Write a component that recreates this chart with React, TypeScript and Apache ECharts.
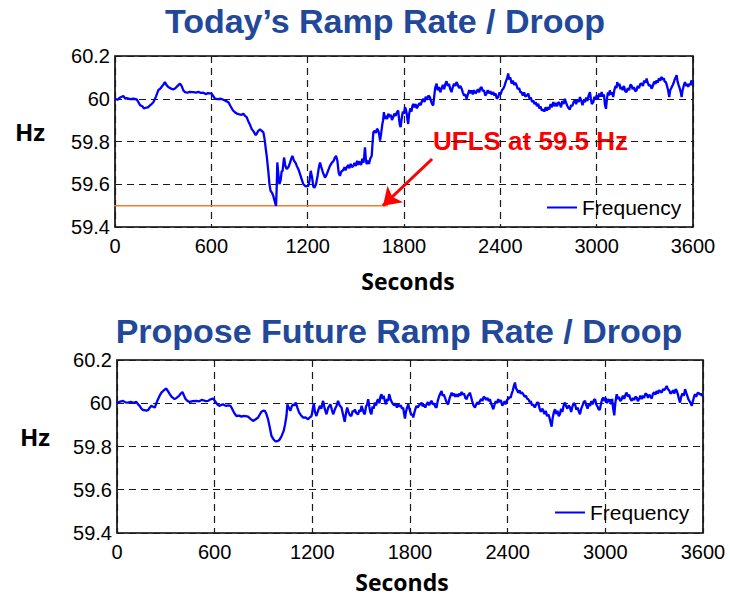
import React, { useEffect, useRef } from "react";
import * as echarts from "echarts";

const xTicks = [0, 600, 1200, 1800, 2400, 3000, 3600];
const yRange = [59.4, 60.2];
const titles = ["Today\u2019s Ramp Rate / Droop", "Propose Future Ramp Rate / Droop"];
const uflsLevel = 59.5;
const uflsLine: [number, number][] = [[-40, 59.5], [1700, 59.5]];
const arrowFrom: [number, number] = [1975, 59.718];
const arrowTo: [number, number] = [1669, 59.5];

const todayFreq: [number, number][] = [[0,60.0],[15,59.995],[30,60.005],[52,60.013],[65,60.0],[73,60.003],[95,59.998],[115,60.0],[135,59.997],[145,59.985],[156,59.97],[170,59.965],[180,59.955],[193,59.958],[205,59.96],[218,59.969],[228,59.975],[239,59.984],[255,60.01],[270,60.04],[285,60.05],[300,60.065],[311,60.078],[320,60.065],[332,60.055],[350,60.047],[362,60.044],[374,60.048],[390,60.06],[405,60.071],[415,60.06],[425,60.04],[436,60.031],[450,60.028],[465,60.032],[488,60.031],[505,60.029],[520,60.032],[535,60.027],[550,60.028],[565,60.022],[580,60.026],[602,60.024],[612,60.012],[623,60.0],[640,59.998],[660,60.0],[675,59.995],[690,59.99],[706,59.984],[720,59.965],[735,59.945],[747,59.937],[760,59.93],[775,59.927],[789,59.925],[800,59.93],[810,59.92],[820,59.914],[830,59.895],[840,59.88],[851,59.859],[865,59.845],[875,59.83],[882,59.835],[892,59.85],[903,59.856],[914,59.85],[924,59.843],[932,59.81],[940,59.76],[945,59.733],[955,59.66],[962,59.6],[969,59.569],[978,59.56],[986,59.545],[995,59.52],[1003,59.498],[1007,59.58],[1011,59.702],[1017,59.65],[1024,59.6],[1032,59.62],[1038,59.66],[1044,59.663],[1049,59.7],[1053,59.725],[1060,59.69],[1069,59.671],[1080,59.68],[1090,59.7],[1098,59.72],[1105,59.733],[1115,59.71],[1125,59.7],[1132,59.686],[1145,59.665],[1160,59.63],[1173,59.6],[1188,59.59],[1204,59.592],[1212,59.62],[1219,59.663],[1228,59.63],[1235,59.59],[1242,59.584],[1252,59.6],[1262,59.64],[1270,59.68],[1277,59.702],[1285,59.68],[1295,59.655],[1308,59.631],[1318,59.645],[1328,59.665],[1339,59.686],[1350,59.7],[1362,59.71],[1370,59.725],[1377,59.733],[1385,59.71],[1393,59.655],[1401,59.639],[1410,59.66],[1420,59.665],[1430,59.68],[1436,59.665],[1443,59.678],[1452,59.69],[1460,59.675],[1468,59.695],[1476,59.68],[1484,59.686],[1492,59.7],[1500,59.685],[1508,59.71],[1515,59.69],[1520,59.705],[1526,59.702],[1533,59.69],[1540,59.72],[1547,59.7],[1552,59.73],[1557,59.773],[1562,59.72],[1567,59.694],[1575,59.71],[1582,59.695],[1590,59.72],[1599,59.733],[1603,59.78],[1609,59.843],[1618,59.85],[1625,59.84],[1632,59.86],[1640,59.851],[1646,59.83],[1651,59.804],[1658,59.84],[1665,59.88],[1670,59.9],[1675,59.937],[1681,59.906],[1688,59.92],[1695,59.905],[1702,59.93],[1710,59.915],[1718,59.925],[1725,59.9],[1733,59.914],[1740,59.93],[1748,59.92],[1755,59.935],[1764,59.945],[1770,59.9],[1775,59.875],[1779,59.867],[1786,59.91],[1793,59.94],[1800,59.93],[1806,59.961],[1812,59.95],[1818,59.925],[1822,59.9],[1826,59.882],[1832,59.93],[1840,59.955],[1847,59.94],[1852,59.965],[1858,59.976],[1865,59.96],[1872,59.975],[1880,59.955],[1889,59.969],[1897,59.98],[1904,59.97],[1912,59.99],[1920,60.0],[1928,59.985],[1935,60.01],[1943,59.995],[1952,60.015],[1961,60.008],[1968,59.99],[1975,59.975],[1982,59.969],[1988,60.01],[1994,60.05],[2003,60.071],[2010,60.04],[2018,60.055],[2026,60.03],[2034,60.047],[2042,60.065],[2050,60.045],[2058,60.07],[2065,60.082],[2072,60.06],[2080,60.07],[2088,60.045],[2096,60.031],[2104,60.055],[2112,60.07],[2120,60.06],[2127,60.078],[2135,60.065],[2143,60.05],[2151,60.06],[2159,60.047],[2166,60.03],[2174,60.015],[2182,60.02],[2190,60.0],[2198,60.02],[2206,60.04],[2214,60.025],[2221,60.039],[2229,60.02],[2237,60.04],[2245,60.025],[2252,60.031],[2260,60.045],[2268,60.03],[2276,60.05],[2283,60.055],[2291,60.035],[2298,60.04],[2306,60.015],[2314,60.024],[2322,60.04],[2330,60.025],[2338,60.035],[2346,60.02],[2356,60.031],[2363,60.015],[2370,60.025],[2378,60.0],[2387,60.008],[2395,60.03],[2402,60.02],[2410,60.04],[2418,60.047],[2426,60.06],[2434,60.08],[2442,60.095],[2449,60.118],[2455,60.09],[2462,60.1],[2470,60.071],[2478,60.085],[2486,60.065],[2494,60.075],[2501,60.063],[2509,60.045],[2517,60.05],[2525,60.03],[2532,60.031],[2540,60.015],[2548,60.03],[2556,60.01],[2565,60.015],[2574,60.024],[2582,60.0],[2590,60.005],[2598,59.985],[2605,59.992],[2613,59.975],[2620,59.985],[2628,59.965],[2636,59.976],[2643,59.955],[2650,59.965],[2658,59.945],[2667,59.95],[2674,59.94],[2682,59.96],[2690,59.945],[2698,59.961],[2705,59.95],[2713,59.975],[2721,59.96],[2730,59.984],[2738,59.965],[2746,59.98],[2754,59.965],[2762,59.985],[2771,59.976],[2778,59.96],[2786,59.99],[2794,59.975],[2802,60.0],[2810,59.98],[2818,59.965],[2826,59.955],[2833,59.95],[2841,59.97],[2848,59.965],[2856,59.985],[2864,59.992],[2872,59.975],[2880,59.995],[2888,59.985],[2896,60.008],[2904,59.99],[2912,59.97],[2920,59.995],[2927,59.984],[2935,60.005],[2942,59.99],[2950,60.015],[2958,60.031],[2964,60.0],[2970,59.975],[2979,59.984],[2986,60.01],[2993,59.995],[3000,60.016],[3008,60.0],[3016,60.025],[3024,60.01],[3031,60.031],[3038,60.01],[3045,60.02],[3052,59.97],[3058,59.953],[3064,60.0],[3070,60.03],[3076,60.015],[3082,60.039],[3090,60.02],[3096,60.03],[3103,60.008],[3110,60.04],[3118,60.06],[3124,60.05],[3128,60.078],[3135,60.06],[3142,60.07],[3148,60.045],[3155,60.055],[3162,60.04],[3170,60.06],[3178,60.035],[3186,60.031],[3194,60.05],[3202,60.04],[3210,60.065],[3217,60.063],[3224,60.045],[3232,60.055],[3240,60.035],[3248,60.039],[3256,60.06],[3264,60.05],[3272,60.07],[3280,60.071],[3288,60.06],[3296,60.085],[3304,60.075],[3311,60.094],[3318,60.075],[3326,60.06],[3334,60.065],[3342,60.047],[3350,60.06],[3358,60.08],[3366,60.07],[3373,60.086],[3380,60.075],[3388,60.095],[3396,60.085],[3404,60.102],[3410,60.09],[3418,60.095],[3424,60.08],[3431,60.078],[3438,60.06],[3445,60.04],[3452,60.008],[3458,60.04],[3465,60.05],[3473,60.063],[3480,60.075],[3486,60.09],[3492,60.1],[3498,60.11],[3504,60.08],[3510,60.065],[3518,60.047],[3524,60.03],[3529,60.008],[3535,60.04],[3542,60.06],[3550,60.078],[3557,60.06],[3564,60.07],[3570,60.055],[3577,60.07],[3584,60.065],[3591,60.086],[3597,60.063]];

const futureFreq: [number, number][] = [[0,60.0],[6,60.003],[20,60.008],[37,60.011],[52,60.004],[68,60.003],[85,60.006],[100,60.002],[119,60.006],[130,59.995],[139,59.988],[150,59.975],[160,59.968],[170,59.968],[180,59.966],[191,59.968],[200,59.978],[211,59.988],[222,59.984],[232,59.98],[242,60.0],[252,60.019],[262,60.035],[273,60.049],[288,60.06],[303,60.068],[314,60.055],[324,60.042],[338,60.028],[354,60.019],[366,60.025],[381,60.034],[392,60.045],[402,60.052],[412,60.035],[422,60.019],[435,60.01],[447,60.006],[465,60.01],[488,60.011],[505,60.009],[520,60.015],[529,60.014],[545,60.01],[559,60.011],[575,60.018],[590,60.022],[600,60.012],[611,60.0],[620,59.992],[631,59.988],[642,59.993],[652,59.995],[662,59.99],[672,59.988],[685,59.99],[697,59.988],[705,59.978],[713,59.965],[724,59.95],[734,59.941],[750,59.943],[765,59.938],[775,59.941],[790,59.94],[805,59.938],[820,59.928],[836,59.918],[850,59.925],[867,59.934],[877,59.948],[887,59.96],[898,59.966],[908,59.965],[918,59.95],[928,59.926],[938,59.89],[949,59.849],[960,59.835],[970,59.826],[979,59.823],[990,59.826],[1000,59.833],[1012,59.85],[1024,59.872],[1032,59.9],[1041,59.941],[1047,59.995],[1055,59.98],[1065,59.965],[1073,59.985],[1082,59.995],[1090,59.99],[1098,60.003],[1108,59.98],[1119,59.957],[1130,59.945],[1143,59.934],[1158,59.935],[1174,59.926],[1185,59.935],[1195,59.941],[1202,59.97],[1209,60.0],[1216,59.96],[1225,59.941],[1235,59.965],[1246,59.988],[1255,59.975],[1266,60.011],[1276,59.975],[1287,59.949],[1298,59.98],[1311,59.995],[1320,59.97],[1328,59.949],[1340,59.975],[1350,59.99],[1358,60.011],[1368,59.99],[1379,59.98],[1388,59.95],[1399,59.914],[1406,59.95],[1414,59.98],[1422,59.96],[1430,59.945],[1440,59.941],[1448,59.965],[1455,59.96],[1461,59.972],[1470,59.955],[1481,59.949],[1490,59.97],[1496,59.96],[1502,59.988],[1510,59.97],[1516,59.955],[1522,59.949],[1530,59.985],[1537,59.995],[1543,60.019],[1550,59.985],[1556,59.96],[1563,59.949],[1570,59.985],[1577,59.975],[1584,60.003],[1592,59.99],[1598,60.01],[1604,60.019],[1612,60.0],[1618,60.03],[1625,60.042],[1632,60.02],[1638,60.035],[1645,60.011],[1652,59.995],[1660,60.02],[1666,60.011],[1672,60.042],[1680,60.02],[1688,60.005],[1697,59.995],[1705,59.99],[1712,60.0],[1720,59.98],[1728,59.995],[1736,59.985],[1744,59.99],[1751,59.975],[1758,59.98],[1764,59.95],[1769,59.929],[1775,59.96],[1782,59.98],[1789,59.995],[1796,59.975],[1802,59.96],[1808,59.945],[1814,59.95],[1820,59.934],[1828,59.96],[1834,59.975],[1840,59.988],[1848,59.98],[1855,59.99],[1863,59.995],[1871,60.003],[1878,59.985],[1886,59.995],[1894,59.98],[1902,59.995],[1910,60.005],[1918,59.99],[1926,60.005],[1933,60.011],[1940,59.995],[1947,60.0],[1955,59.985],[1963,59.98],[1970,60.01],[1978,60.03],[1986,60.045],[1994,60.057],[2000,60.035],[2008,60.04],[2015,60.026],[2022,60.01],[2028,60.0],[2035,59.995],[2042,60.02],[2049,60.035],[2056,60.049],[2064,60.035],[2071,60.045],[2078,60.03],[2086,60.042],[2094,60.03],[2101,60.045],[2109,60.035],[2117,60.052],[2124,60.04],[2132,60.045],[2140,60.025],[2148,60.019],[2155,60.035],[2162,60.04],[2168,60.049],[2175,60.03],[2182,60.01],[2190,59.99],[2199,59.98],[2207,59.995],[2214,60.005],[2222,59.995],[2230,60.011],[2238,60.02],[2245,60.01],[2252,60.03],[2260,60.026],[2268,60.015],[2276,60.025],[2284,60.01],[2291,60.019],[2298,60.0],[2305,59.985],[2312,59.972],[2320,59.995],[2327,60.01],[2335,60.0],[2342,60.019],[2350,60.005],[2358,60.015],[2366,59.99],[2373,59.995],[2381,60.01],[2389,59.995],[2396,60.015],[2404,60.019],[2412,60.03],[2418,60.025],[2424,60.042],[2432,60.06],[2438,60.08],[2445,60.096],[2451,60.07],[2458,60.06],[2465,60.049],[2473,60.06],[2480,60.045],[2488,60.05],[2496,60.042],[2504,60.03],[2512,60.035],[2520,60.02],[2527,60.019],[2535,60.005],[2542,60.01],[2550,59.99],[2558,59.995],[2566,59.98],[2573,59.99],[2580,60.003],[2588,60.003],[2596,59.975],[2604,59.96],[2612,59.975],[2619,59.965],[2626,59.95],[2634,59.965],[2642,59.94],[2650,59.949],[2658,59.93],[2664,59.91],[2670,59.892],[2676,59.93],[2684,59.96],[2691,59.972],[2698,59.95],[2706,59.965],[2714,59.94],[2721,59.949],[2728,59.975],[2736,59.96],[2744,59.99],[2752,60.003],[2760,59.985],[2767,59.975],[2775,59.99],[2783,59.98],[2790,59.96],[2798,59.985],[2806,60.0],[2814,59.995],[2822,59.97],[2830,59.98],[2838,59.96],[2844,59.949],[2852,59.975],[2860,59.99],[2867,60.005],[2875,60.011],[2883,59.99],[2891,59.975],[2898,59.995],[2906,59.988],[2914,60.01],[2922,59.995],[2930,60.015],[2937,60.019],[2944,59.995],[2952,59.985],[2960,59.97],[2967,59.972],[2974,60.0],[2981,60.02],[2988,60.026],[2995,60.01],[3002,60.025],[3010,60.0],[3017,60.02],[3024,60.005],[3029,60.019],[3036,59.995],[3042,60.02],[3048,59.975],[3055,59.944],[3060,59.99],[3065,60.02],[3070,60.042],[3077,60.02],[3084,60.03],[3092,60.01],[3101,60.019],[3108,60.035],[3116,60.02],[3124,60.04],[3131,60.049],[3139,60.03],[3146,60.04],[3154,60.02],[3162,60.011],[3170,60.025],[3177,60.015],[3185,60.03],[3193,60.026],[3200,60.01],[3208,60.02],[3215,60.035],[3223,60.019],[3231,60.035],[3238,60.025],[3246,60.045],[3254,60.042],[3262,60.025],[3270,60.04],[3278,60.03],[3285,60.022],[3293,60.045],[3300,60.05],[3308,60.04],[3316,60.057],[3323,60.045],[3331,60.06],[3338,60.055],[3346,60.049],[3354,60.065],[3362,60.06],[3370,60.07],[3377,60.08],[3384,60.065],[3392,60.06],[3400,60.045],[3408,60.049],[3416,60.06],[3424,60.045],[3432,60.065],[3439,60.057],[3446,60.04],[3452,60.02],[3459,60.003],[3466,60.03],[3474,60.045],[3482,60.035],[3490,60.065],[3496,60.05],[3503,60.035],[3510,60.019],[3517,60.01],[3524,60.0],[3531,59.988],[3538,60.01],[3545,60.03],[3551,60.042],[3558,60.03],[3565,60.045],[3572,60.049],[3580,60.04],[3586,60.045],[3592,60.034],[3598,60.04]];

const FONT = "'Liberation Sans', Arial, sans-serif";
const LABEL_FONT = "'Open Sans', 'Liberation Sans', sans-serif";

function yFmt(v: number) {
  const r = Math.round(v * 10) / 10;
  return r === 60 ? "60" : r.toFixed(1);
}
function xFmt(v: number) {
  return String(Math.round(v));
}

export default function App() {
  const ref = useRef<HTMLDivElement>(null);
  useEffect(() => {
    if (!ref.current) return;
    const chart = echarts.init(ref.current, undefined, { renderer: "svg" });
    const grids = [
      { left: 115, top: 56, width: 578, height: 171 },
      { left: 117, top: 360, width: 586, height: 173 },
    ];
    const split = { show: true, lineStyle: { color: "#1a1a1a", type: [7, 5], width: 1.2 } };
    const option: any = {
      animation: false,
      backgroundColor: "#ffffff",
      textStyle: { fontFamily: FONT },
      grid: grids.map((g) => ({ ...g, show: true, borderColor: "#000", borderWidth: 1.6, backgroundColor: "rgba(0,0,0,0)" })),
      xAxis: grids.map((_, i) => ({
        type: "value",
        gridIndex: i,
        min: xTicks[0],
        max: xTicks[xTicks.length - 1],
        interval: xTicks[1] - xTicks[0],
        axisLine: { show: false },
        axisTick: { show: false },
        axisLabel: { color: "#000", fontSize: 20, margin: 9, fontFamily: FONT, formatter: xFmt },
        splitLine: split,
      })),
      yAxis: grids.map((_, i) => ({
        type: "value",
        gridIndex: i,
        min: yRange[0],
        max: yRange[1],
        interval: 0.2,
        axisLine: { show: false },
        axisTick: { show: false },
        axisLabel: { color: "#000", fontSize: 20, margin: 5, fontFamily: FONT, formatter: yFmt },
        splitLine: split,
      })),
      legend: [
        { left: 547, top: 197, padding: 0, itemWidth: 30, itemHeight: 2, itemGap: 4, icon: "rect", data: ["Frequency"], textStyle: { fontSize: 21, color: "#000", fontFamily: FONT } },
        { left: 555, top: 502, padding: 0, itemWidth: 30, itemHeight: 2, itemGap: 4, icon: "rect", data: ["Frequency"], textStyle: { fontSize: 21, color: "#000", fontFamily: FONT } },
      ],
      series: [
        {
          name: "Frequency", type: "line", xAxisIndex: 0, yAxisIndex: 0, data: todayFreq,
          showSymbol: false, symbol: "none", color: "#0000FF", lineStyle: { width: 2.3, color: "#0000FF" }, z: 3,
        },
        {
          name: "UFLS", type: "line", xAxisIndex: 0, yAxisIndex: 0, data: uflsLine, clip: false,
          showSymbol: false, symbol: "none", color: "#F57A2E", lineStyle: { width: 1.5, color: "#F57A2E" }, z: 2,
          markLine: {
            silent: true, symbol: ["none", "arrow"], symbolSize: 17, animation: false,
            lineStyle: { color: "#FF0000", width: 3, type: "solid" }, label: { show: false },
            data: [[{ coord: arrowFrom }, { coord: arrowTo }]],
          },
        },
        {
          name: "Frequency", type: "line", xAxisIndex: 1, yAxisIndex: 1, data: futureFreq,
          showSymbol: false, symbol: "none", color: "#0000FF", lineStyle: { width: 2.3, color: "#0000FF" }, z: 3,
        },
      ],
      graphic: [
        { type: "text", style: { text: titles[0], x: 385, y: 21, align: "center", verticalAlign: "middle", fill: "#22489A", font: `bold 34px ${FONT}` } },
        { type: "text", style: { text: titles[1], x: 399, y: 331, align: "center", verticalAlign: "middle", fill: "#22489A", font: `bold 34px ${FONT}` } },
        { type: "text", style: { text: "Hz", x: 30, y: 131, align: "center", verticalAlign: "middle", fill: "#000", font: `bold 24px ${LABEL_FONT}` } },
        { type: "text", style: { text: "Hz", x: 35, y: 436, align: "center", verticalAlign: "middle", fill: "#000", font: `bold 24px ${LABEL_FONT}` } },
        { type: "text", style: { text: "Seconds", x: 408, y: 281, align: "center", verticalAlign: "middle", fill: "#000", font: `bold 23px ${LABEL_FONT}` } },
        { type: "text", style: { text: "Seconds", x: 402, y: 582, align: "center", verticalAlign: "middle", fill: "#000", font: `bold 23px ${LABEL_FONT}` } },
        { type: "text", style: { text: `UFLS at ${uflsLevel} Hz`, x: 433, y: 141, align: "left", verticalAlign: "middle", fill: "#FF0000", font: `bold 26px ${FONT}` } },
      ],
    };
    chart.setOption(option);
    return () => chart.dispose();
  }, []);
  return <div ref={ref} style={{ position: "absolute", left: 0, top: 0, width: 730, height: 598 }} />;
}
